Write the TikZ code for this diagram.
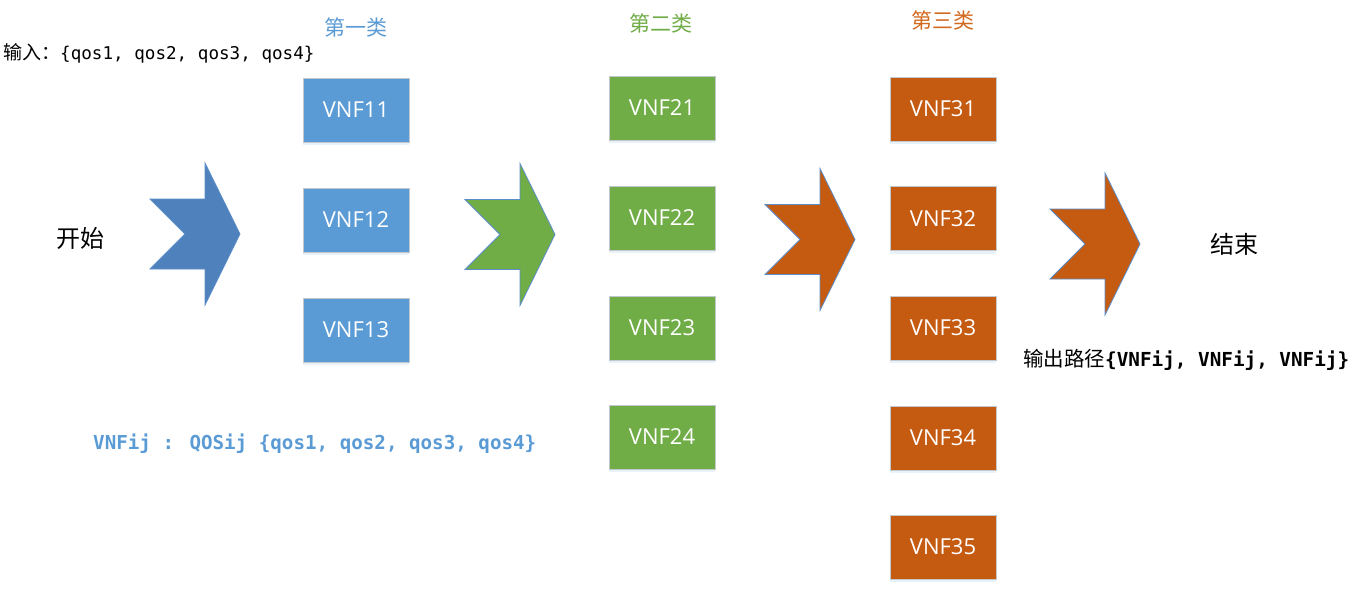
\documentclass[tikz,border=0pt]{standalone}
\usepackage{fontspec}
\setmainfont{Open Sans}
\newfontfamily\cjk{Noto Sans CJK SC}
\newfontfamily\mono{DejaVu Sans Mono}
\usetikzlibrary{shadows}
\definecolor{cblue}{HTML}{5B9BD5}
\definecolor{cgreen}{HTML}{70AD47}
\definecolor{corange}{HTML}{C55A11}
\definecolor{ctitleorange}{HTML}{D2691E}
\definecolor{carrowblue}{HTML}{4F81BD}
\definecolor{coutline}{HTML}{5B8DC9}
\definecolor{cborder}{HTML}{C3C8CE}
\newcommand\chevshape[3]{%
  \draw[chev, fill=#3] (#1,#2-35) -- (#1+55,#2-35) -- (#1+55,#2-71) -- (#1+90,#2)
    -- (#1+55,#2+71) -- (#1+55,#2+35) -- (#1,#2+35) -- (#1+35,#2) -- cycle;}
\begin{document}
\begin{tikzpicture}[x=1pt,y=-1pt,
  vnfbox/.style={draw=cborder, line width=1pt, minimum width=106pt, minimum height=64pt,
    inner sep=0pt, text=white, font=\fontsize{22}{22}\selectfont,
    drop shadow={fill=cblue!50, opacity=0.25, shadow xshift=0pt, shadow yshift=-3pt}},
  bluebox/.style={vnfbox, fill=cblue},
  greenbox/.style={vnfbox, fill=cgreen},
  orangebox/.style={vnfbox, fill=corange},
  chev/.style={draw=coutline, line width=0.8pt, line join=miter},
  heading/.style={inner sep=0pt, font=\cjk\fontsize{21}{21}\selectfont},
  bigcjk/.style={inner sep=0pt, font=\cjk\fontsize{24}{24}\selectfont},
  plain/.style={inner sep=0pt, anchor=west}]
\useasboundingbox (0,0) rectangle (1368,614);
\fill[white] (0,0) rectangle (1368,614);

% headings
\node[heading, text=cblue] (h1) at (356,27) {第一类};
\node[heading, text=cgreen] (h2) at (661,23) {第二类};
\node[heading, text=ctitleorange] (h3) at (943,20) {第三类};

% input line
\node[plain] (input) at (3,53) {{\cjk\fontsize{19}{19}\selectfont 输入：}{\mono\fontsize{17.6}{18}\selectfont\{qos1, qos2, qos3, qos4\}}};

% start / end
\node[bigcjk] (start) at (80,238) {开始};
\node[bigcjk] (end) at (1234,244) {结束};

% arrows
\chevshape{150}{234}{carrowblue}
\chevshape{465}{234.5}{cgreen}
\chevshape{765}{239.5}{corange}
\chevshape{1050}{244}{corange}

% blue boxes
\node[bluebox] (v11) at (356,110) {VNF11};
\node[bluebox] (v12) at (356,220) {VNF12};
\node[bluebox] (v13) at (356,330) {VNF13};

% green boxes
\node[greenbox] (v21) at (662,108) {VNF21};
\node[greenbox] (v22) at (662,218) {VNF22};
\node[greenbox] (v23) at (662,328) {VNF23};
\node[greenbox] (v24) at (662,437) {VNF24};

% orange boxes
\node[orangebox] (v31) at (943,109) {VNF31};
\node[orangebox] (v32) at (943,218.5) {VNF32};
\node[orangebox] (v33) at (943,328) {VNF33};
\node[orangebox] (v34) at (943,438) {VNF34};
\node[orangebox] (v35) at (943,547) {VNF35};

% output line
\node[plain] (output) at (1023,360) {{\cjk\fontsize{20.5}{20}\selectfont 输出路径}{\mono\bfseries\fontsize{19.3}{19}\selectfont\{VNFij, VNFij, VNFij\}}};

% legend line
\node[plain, text=cblue] (legend) at (93,444) {\mono\bfseries\fontsize{19.2}{19}\selectfont VNFij : QOSij \{qos1, qos2, qos3, qos4\}};
\end{tikzpicture}
\end{document}
